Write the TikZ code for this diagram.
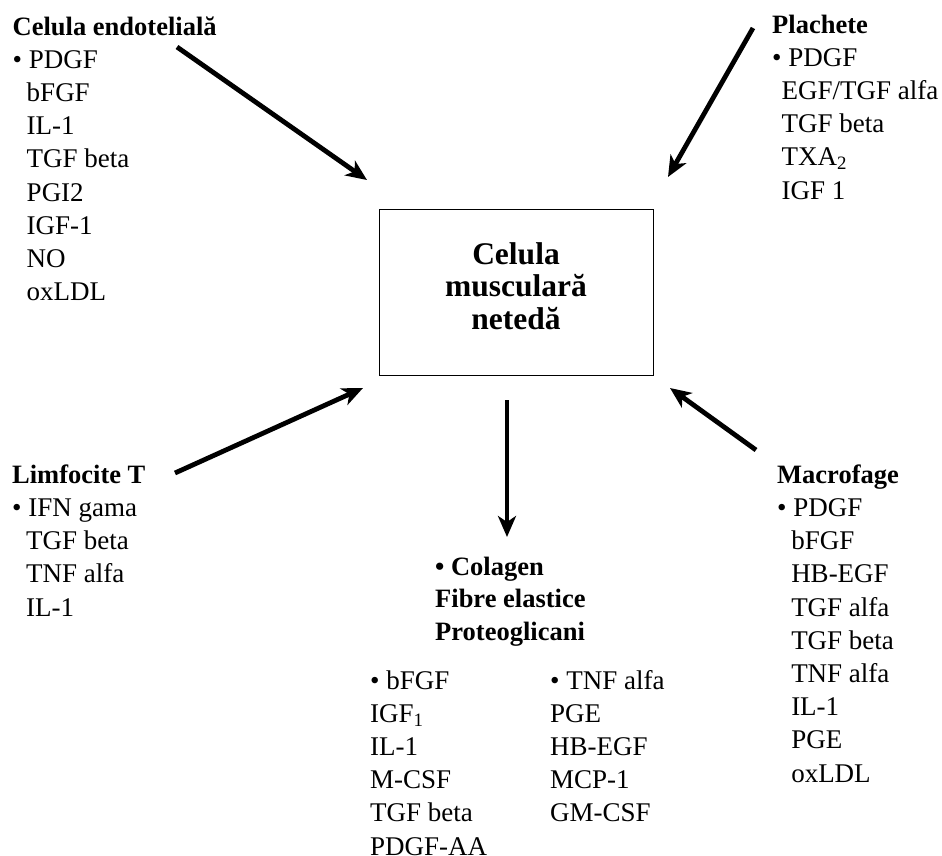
\documentclass[tikz,border=0pt]{standalone}
\usepackage{fontspec}
\setmainfont{Liberation Serif}
\usetikzlibrary{arrows.meta}
\begin{document}
\begin{tikzpicture}[x=1pt,y=-1pt,
 lst/.style={anchor=base west, inner sep=0pt, align=left, font=\fontsize{27}{33.2}\selectfont},
 boxtext/.style={align=center, inner sep=0pt, anchor=base, font=\fontsize{31.5}{32.5}\selectfont\bfseries},
 cell/.style={draw, line width=0.9pt, minimum width=274, minimum height=166, inner sep=0pt},
 arr/.style={line width=4.8pt, -{Stealth[length=21pt,width=18pt,inset=6pt]}},
]
\useasboundingbox (0,0) rectangle (942,855);
\newcommand{\ind}{\hspace{0.52em}}
\newcommand{\hdl}[1]{{\fontsize{26.5}{33.2}\selectfont\bfseries #1}}
% central box
\node[cell] (box) at (516,292) {};
% multi-line nodes: the base anchor is the baseline of the last line
\node[boxtext] (boxlbl) at (516,329) {Celula\\musculară\\netedă};
% text blocks
\node[lst] (endo) at (12.5,300.6) {\hdl{Celula endotelială}\\• PDGF\\\ind bFGF\\\ind IL-1\\\ind TGF beta\\\ind PGI2\\\ind IGF-1\\\ind NO\\\ind oxLDL};
\node[lst] (plach) at (772,199) {\hdl{Plachete}\\• PDGF\\\hspace{0.35em}EGF/TGF alfa\\\hspace{0.35em}TGF beta\\\hspace{0.35em}TXA\textsubscript{2}\\\hspace{0.35em}IGF 1};
\node[lst] (limf) at (12,616) {\hdl{Limfocite T}\\• IFN gama\\\ind TGF beta\\\ind TNF alfa\\\ind IL-1};
\node[lst] (macro) at (777,782) {\hdl{Macrofage}\\• PDGF\\\ind bFGF\\\ind HB-EGF\\\ind TGF alfa\\\ind TGF beta\\\ind TNF alfa\\\ind IL-1\\\ind PGE\\\ind oxLDL};
\node[lst, font=\fontsize{26.5}{32.5}\selectfont\bfseries] (ecm) at (435,640) {• Colagen\\Fibre elastice\\Proteoglicani};
\node[lst] (colA) at (370,855) {• bFGF\\IGF\textsubscript{1}\\IL-1\\M-CSF\\TGF beta\\PDGF-AA};
\node[lst] (colB) at (550,821.8) {• TNF alfa\\PGE\\HB-EGF\\MCP-1\\GM-CSF};
% arrow end points
\coordinate (e1) at (177,47);  \coordinate (e2) at (367,180);
\coordinate (p1) at (753,28);  \coordinate (p2) at (668,177);
\coordinate (l1) at (175,473); \coordinate (l2) at (363,388);
\coordinate (d1) at (507,400); \coordinate (d2) at (507,537);
\coordinate (m1) at (756,450); \coordinate (m2) at (670,388);
\draw[arr] (e1) -- (e2);
\draw[arr] (p1) -- (p2);
\draw[arr] (l1) -- (l2);
\draw[arr] (d1) -- (d2);
\draw[arr] (m1) -- (m2);
\end{tikzpicture}
\end{document}
